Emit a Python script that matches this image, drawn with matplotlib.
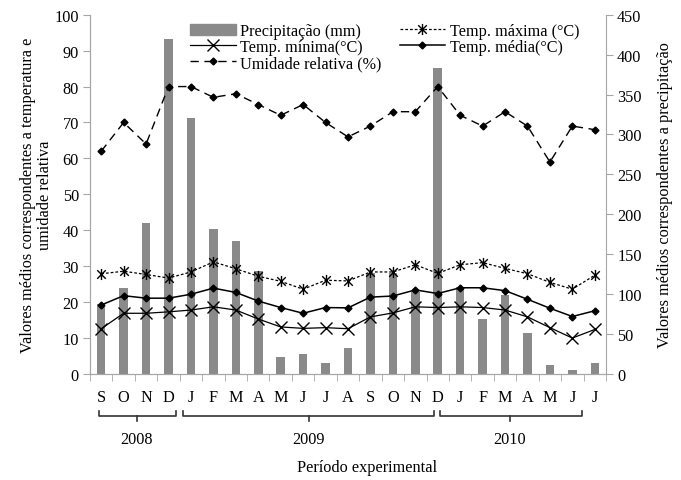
import numpy as np
import matplotlib
matplotlib.use('Agg')
import matplotlib.pyplot as plt
from matplotlib.path import Path
from matplotlib.patches import Patch

plt.rcParams['font.family'] = ['Liberation Serif', 'DejaVu Serif']
plt.rcParams['font.size'] = 11.7

meses = ['S','O','N','D','J','F','M','A','M','J','J','A','S','O','N','D','J','F','M','A','M','J','J']
anos = ['2008', '2009', '2010']
precip = [88, 108, 189, 420, 321, 182, 166, 129, 21, 25, 14, 32, 127, 127, 103, 383, 109, 69, 99, 51, 11, 5, 14]
tmax = [27.9, 28.6, 27.7, 26.7, 28.4, 31.2, 29.3, 27.2, 25.8, 23.6, 26.1, 25.9, 28.4, 28.4, 30.4, 28.0, 30.4, 31.0, 29.4, 27.9, 25.5, 23.6, 27.5]
tmed = [19.2, 21.8, 21.1, 21.1, 22.2, 23.9, 22.7, 20.3, 18.5, 16.9, 18.5, 18.4, 21.4, 21.7, 23.4, 22.4, 24.0, 24.0, 23.2, 20.8, 18.3, 16.0, 17.6]
tmin = [12.6, 16.9, 16.9, 17.3, 17.8, 18.7, 17.8, 15.3, 13.1, 12.7, 12.9, 12.6, 15.9, 17.0, 18.7, 18.5, 18.7, 18.5, 17.8, 15.9, 12.9, 10.0, 12.4]
umid = [62, 70, 64, 80, 80, 77, 78, 75, 72, 75, 70, 66, 69, 73, 73, 80, 72, 69, 73, 69, 59, 69, 68]

x = np.arange(len(meses))
cinza = '#a6a6a6'

# asterisco estilo excel: X com traço vertical
star = Path([(-1, -1), (1, 1), (-1, 1), (1, -1), (0, -1.3), (0, 1.3)],
            [Path.MOVETO, Path.LINETO, Path.MOVETO, Path.LINETO, Path.MOVETO, Path.LINETO])

fig = plt.figure(figsize=(6.81, 4.81), dpi=100)
ax1 = fig.add_axes([90/681, 1-375/481, 516/681, 359.3/481])
ax2 = ax1.twinx()
ax1.set_zorder(ax2.get_zorder() + 1)
ax1.patch.set_visible(False)

bars = ax2.bar(x, precip, width=0.38, color='#8a8a8a', label='Precipitação (mm)')

l_max, = ax1.plot(x, tmax, color='black', lw=0.9, ls=(0, (2.2, 1.6)), marker=star, ms=8, mew=1.0,
                  label='Temp. máxima (°C)')
l_min, = ax1.plot(x, tmin, color='black', lw=0.9, marker='x', ms=8, mew=1.0, label='Temp. mínima(°C)')
l_med, = ax1.plot(x, tmed, color='black', lw=1.1, marker='D', ms=3.5, label='Temp. média(°C)')
l_um, = ax1.plot(x, umid, color='black', lw=1.0, ls=(0, (6, 4)), marker='D', ms=3.5, label='Umidade relativa (%)')

ax1.set_xlim(-0.5, len(meses) - 0.5)
ax1.set_ylim(0, 100)
ax2.set_ylim(0, 450)
ax1.set_yticks(np.arange(0, 101, 10))
ax2.set_yticks(np.arange(0, 451, 50))

ax1.set_xticks(x)
ax1.set_xticklabels(meses)
ax1.set_xticks(np.arange(-0.5, len(meses), 1), minor=True)
ax1.tick_params(axis='x', which='major', length=0, pad=11)
ax1.tick_params(axis='x', which='minor', length=5, color=cinza, direction='out')
ax1.tick_params(axis='y', length=5, color=cinza, direction='out', pad=3)
ax2.tick_params(axis='y', length=5, color=cinza, direction='out', pad=3)

for ax in (ax1, ax2):
    ax.spines['top'].set_visible(False)
    for s in ('left', 'right', 'bottom'):
        ax.spines[s].set_color(cinza)
ax1.spines['right'].set_visible(False)

ax1.set_ylabel('Valores médios correspondentes a temperatura e\numidade relativa', labelpad=1, linespacing=1.05)
ax2.set_ylabel('Valores médios correspondentes a precipitação', labelpad=11)

# chaves dos anos
trans = ax1.get_xaxis_transform()
chaves = [(-0.1, 3.35, 1.58), (3.65, 14.84, 9.25), (15.1, 21.42, 18.2)]
y0, y1, y2 = -36.7/359.3, -41.7/359.3, -46.7/359.3
for (a, b, c), ano in zip(chaves, anos):
    ax1.plot([a, a, b, b], [y0, y1, y1, y0], color='#333333', lw=1.2, transform=trans, clip_on=False)
    ax1.plot([c, c], [y1, y2], color='#333333', lw=1.2, transform=trans, clip_on=False)
    ax1.text(c, -65/359.3, ano, transform=trans, ha='center', va='center')

fig.text(367/681, 1-468/481, 'Período experimental', ha='center', va='center')

handles = [bars, l_min, l_um, l_max, l_med]
labels = [h.get_label() for h in handles]
handles[0] = Patch(color='#8a8a8a')
fig.legend(handles, labels, ncol=2, frameon=False, loc='upper left',
           bbox_to_anchor=(190/681, 1-24/481), handlelength=2.8, handletextpad=0.3,
           columnspacing=1.1, labelspacing=0.0, borderaxespad=0, borderpad=0)

fig.savefig('out.png', dpi=100)
